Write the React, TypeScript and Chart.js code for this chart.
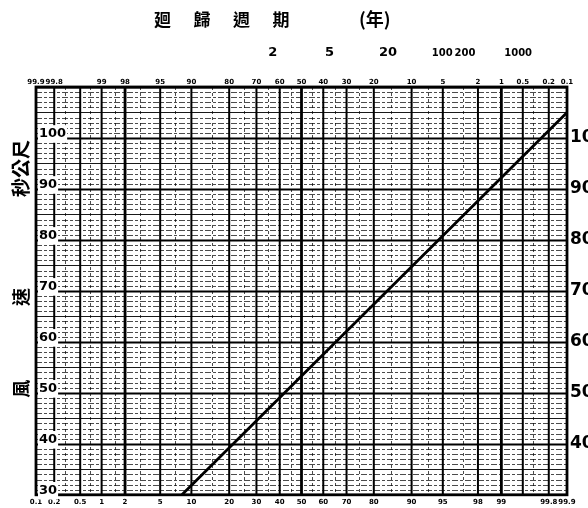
import { useEffect, useRef } from "react";
import { Chart, registerables } from "chart.js";

Chart.register(...registerables);

// Non-exceedance probability (%) printed along the bottom edge
const bottomProbLabels = [0.1, 0.2, 0.5, 1, 2, 5, 10, 20, 30, 40, 50, 60, 70, 80, 90, 95, 98, 99, 99.8, 99.9];
// Exceedance probability (%) printed along the top edge
const topExceedLabels = [99.9, 99.8, 99, 98, 95, 90, 80, 70, 60, 50, 40, 30, 20, 10, 5, 2, 1, 0.5, 0.2, 0.1];
// Heavy vertical rulings (non-exceedance %)
const majorProbLines = [0.2, 0.5, 1, 2, 5, 10, 20, 30, 40, 50, 60, 70, 80, 90, 95, 98, 99, 99.5, 99.8];
// Light dashed vertical rulings (non-exceedance %)
const minorProbLines = [0.3, 0.7, 1.5, 3, 7, 15, 25, 35, 45, 55, 65, 75, 85, 93, 97, 99.65];

// Return periods (years) shown in the header row
const returnPeriods = ["2", "5", "20", "100", "200", "1000"];

// Wind speed axis (m/s)
const speedMin = 30;
const speedMax = 110;
const leftSpeedLabels = [30, 40, 50, 60, 70, 80, 90, 100];
const rightSpeedLabels = [40, 50, 60, 70, 80, 90, 100];

// Fitted frequency line: probability (%) vs wind speed
const lineProb = [8.2, 50, 99.9];
const lineSpeed = [30, 53.3, 105];

// Inverse of the standard normal CDF (Acklam's rational approximation)
function probit(p: number): number {
  const a = [-39.69683028665376, 220.9460984245205, -275.9285104469687, 138.357751867269, -30.66479806614716, 2.506628277459239];
  const b = [-54.47609879822406, 161.5858368580409, -155.6989798598866, 66.80131188771972, -13.28068155288572];
  const c = [-0.007784894002430293, -0.3223964580411365, -2.400758277161838, -2.549732539343734, 4.374664141464968, 2.938163982698783];
  const d = [0.007784695709041462, 0.3224671290700398, 2.445134137142996, 3.754408661907416];
  const pl = 0.02425;
  if (p < pl) {
    const q = Math.sqrt(-2 * Math.log(p));
    return (((((c[0] * q + c[1]) * q + c[2]) * q + c[3]) * q + c[4]) * q + c[5]) / ((((d[0] * q + d[1]) * q + d[2]) * q + d[3]) * q + 1);
  }
  if (p > 1 - pl) {
    const q = Math.sqrt(-2 * Math.log(1 - p));
    return -(((((c[0] * q + c[1]) * q + c[2]) * q + c[3]) * q + c[4]) * q + c[5]) / ((((d[0] * q + d[1]) * q + d[2]) * q + d[3]) * q + 1);
  }
  const q = p - 0.5;
  const r = q * q;
  return ((((((a[0] * r + a[1]) * r + a[2]) * r + a[3]) * r + a[4]) * r + a[5]) * q) / (((((b[0] * r + b[1]) * r + b[2]) * r + b[3]) * r + b[4]) * r + 1);
}

const zMin = probit(0.001);
const zMax = probit(0.999);

const fmt = (v: number) => String(v);

const labelFont = "'DejaVu Sans', sans-serif";
const cjkFont = "'Noto Sans CJK TC', 'Noto Sans CJK SC', sans-serif";

// Probability-paper rulings, drawn before the axes so tick labels sit on top
const paperGrid = {
  id: "paperGrid",
  beforeDraw(chart: any) {
    const { ctx, chartArea: a, scales } = chart;
    const xs = scales.x;
    const ys = scales.y;
    ctx.save();
    ctx.beginPath();
    ctx.rect(a.left, a.top, a.right - a.left, a.bottom - a.top);
    ctx.clip();
    ctx.strokeStyle = "#000";

    // horizontal rulings every 1 m/s
    for (let v = speedMin; v <= speedMax; v++) {
      const y = Math.round(ys.getPixelForValue(v)) + 0.5;
      ctx.beginPath();
      if (v % 10 === 0) {
        ctx.setLineDash([]);
        ctx.lineWidth = 2;
        ctx.globalAlpha = 1;
      } else if (v % 5 === 0) {
        ctx.setLineDash([]);
        ctx.lineWidth = 1.2;
        ctx.globalAlpha = 0.9;
      } else {
        ctx.setLineDash([6, 2, 3, 2]);
        ctx.lineWidth = 1;
        ctx.globalAlpha = 0.7;
      }
      ctx.moveTo(a.left, y);
      ctx.lineTo(a.right, y);
      ctx.stroke();
    }

    // minor vertical rulings
    ctx.setLineDash([3, 3]);
    ctx.lineWidth = 1;
    ctx.globalAlpha = 0.7;
    for (const p of minorProbLines) {
      const x = Math.round(xs.getPixelForValue(probit(p / 100))) + 0.5;
      ctx.beginPath();
      ctx.moveTo(x, a.top);
      ctx.lineTo(x, a.bottom);
      ctx.stroke();
    }

    // major vertical rulings
    ctx.setLineDash([]);
    ctx.globalAlpha = 1;
    for (const p of majorProbLines) {
      const x = xs.getPixelForValue(probit(p / 100));
      ctx.lineWidth = p === 2 || p === 99 || p === 50 ? 2.8 : 2;
      ctx.beginPath();
      ctx.moveTo(x, a.top);
      ctx.lineTo(x, a.bottom);
      ctx.stroke();
    }
    ctx.restore();

    // frame
    ctx.save();
    ctx.strokeStyle = "#000";
    ctx.lineWidth = 2.8;
    ctx.strokeRect(a.left, a.top, a.right - a.left, a.bottom - a.top);
    ctx.restore();
  },
};

// Header, return-period row and the vertical axis caption
const captions = {
  id: "captions",
  afterDraw(chart: any) {
    const { ctx, chartArea: a } = chart;
    const w = a.right - a.left;
    ctx.save();
    ctx.fillStyle = "#000";
    ctx.textBaseline = "middle";
    ctx.textAlign = "center";

    ctx.font = `bold 17px ${cjkFont}`;
    const head = ["廻", "歸", "週", "期"];
    head.forEach((ch, i) => ctx.fillText(ch, a.left + w * 0.238 + i * 39.5, 20));
    ctx.font = `bold 18px ${cjkFont}`;
    ctx.fillText("(年)", a.left + w * 0.638, 19);

    const rpPos = [0.446, 0.553, 0.663, 0.765, 0.808, 0.908];
    returnPeriods.forEach((t, i) => {
      ctx.font = t.length >= 3 ? `bold 10px ${labelFont}` : `bold 13px ${labelFont}`;
      ctx.fillText(t, a.left + w * rpPos[i], 53);
    });

    // vertical caption, reading bottom to top
    const h = a.bottom - a.top;
    const drawUp = (text: string, frac: number, size: number) => {
      ctx.save();
      ctx.translate(21, a.top + h * frac);
      ctx.rotate(-Math.PI / 2);
      ctx.font = `bold ${size}px ${cjkFont}`;
      ctx.fillText(text, 0, 0);
      ctx.restore();
    };
    drawUp("秒公尺", 0.2, 19);
    drawUp("速", 0.515, 18);
    drawUp("風", 0.74, 18);
    ctx.restore();
  },
};

export default function App() {
  const ref = useRef<HTMLCanvasElement | null>(null);

  useEffect(() => {
    if (!ref.current) return;
    const points = lineProb.map((p, i) => ({ x: probit(p / 100), y: lineSpeed[i] }));

    const chart = new Chart(ref.current, {
      type: "line",
      data: {
        datasets: [
          {
            data: points,
            borderColor: "#000",
            borderWidth: 2.8,
            pointRadius: 0,
            tension: 0,
            clip: 2,
          },
        ],
      },
      options: {
        animation: false,
        responsive: false,
        events: [],
        layout: { padding: 0 },
        plugins: { legend: { display: false }, tooltip: { enabled: false }, title: { display: false } },
        scales: {
          x: {
            type: "linear",
            position: "bottom",
            min: zMin,
            max: zMax,
            afterBuildTicks: (s: any) => {
              s.ticks = bottomProbLabels.map((p) => ({ value: probit(p / 100) }));
            },
            afterFit: (s: any) => {
              s.height = 10;
            },
            grid: { display: false, drawTicks: false },
            border: { display: false },
            ticks: {
              autoSkip: false,
              maxRotation: 0,
              minRotation: 0,
              padding: 3,
              color: "#000",
              font: { family: labelFont, size: 7, weight: "bold" },
              callback: (_v: any, i: number) => fmt(bottomProbLabels[i]),
            },
          },
          x2: {
            type: "linear",
            position: "top",
            min: zMin,
            max: zMax,
            afterBuildTicks: (s: any) => {
              s.ticks = topExceedLabels.map((e) => ({ value: probit(1 - e / 100) }));
            },
            afterFit: (s: any) => {
              s.height = 87;
            },
            grid: { display: false, drawTicks: false },
            border: { display: false },
            ticks: {
              autoSkip: false,
              maxRotation: 0,
              minRotation: 0,
              padding: 1,
              color: "#000",
              font: { family: labelFont, size: 7, weight: "bold" },
              callback: (_v: any, i: number) => fmt(topExceedLabels[i]),
            },
          },
          y: {
            type: "linear",
            position: "left",
            min: speedMin,
            max: speedMax,
            afterBuildTicks: (s: any) => {
              s.ticks = leftSpeedLabels.map((v) => ({ value: v }));
            },
            afterFit: (s: any) => {
              s.width = 36;
            },
            grid: { display: false, drawTicks: false },
            border: { display: false },
            ticks: {
              mirror: true,
              padding: 3,
              labelOffset: -4,
              color: "#000",
              showLabelBackdrop: true,
              backdropColor: "#fff",
              backdropPadding: 1,
              font: { family: labelFont, size: 13, weight: "bold" },
            },
          },
          y2: {
            type: "linear",
            position: "right",
            min: speedMin,
            max: speedMax,
            afterBuildTicks: (s: any) => {
              s.ticks = rightSpeedLabels.map((v) => ({ value: v }));
            },
            afterFit: (s: any) => {
              s.width = 21;
            },
            grid: { display: false, drawTicks: false },
            border: { display: false },
            ticks: {
              padding: 3,
              color: "#000",
              font: { family: labelFont, size: 17, weight: "bold" },
            },
          },
        },
      },
      plugins: [paperGrid, captions],
    } as any);

    return () => chart.destroy();
  }, []);

  return (
    <div style={{ position: "fixed", left: 0, top: 0, width: 588, height: 508, background: "#fff" }}>
      <canvas ref={ref} width={588} height={508} style={{ display: "block", width: 588, height: 508 }} />
    </div>
  );
}
